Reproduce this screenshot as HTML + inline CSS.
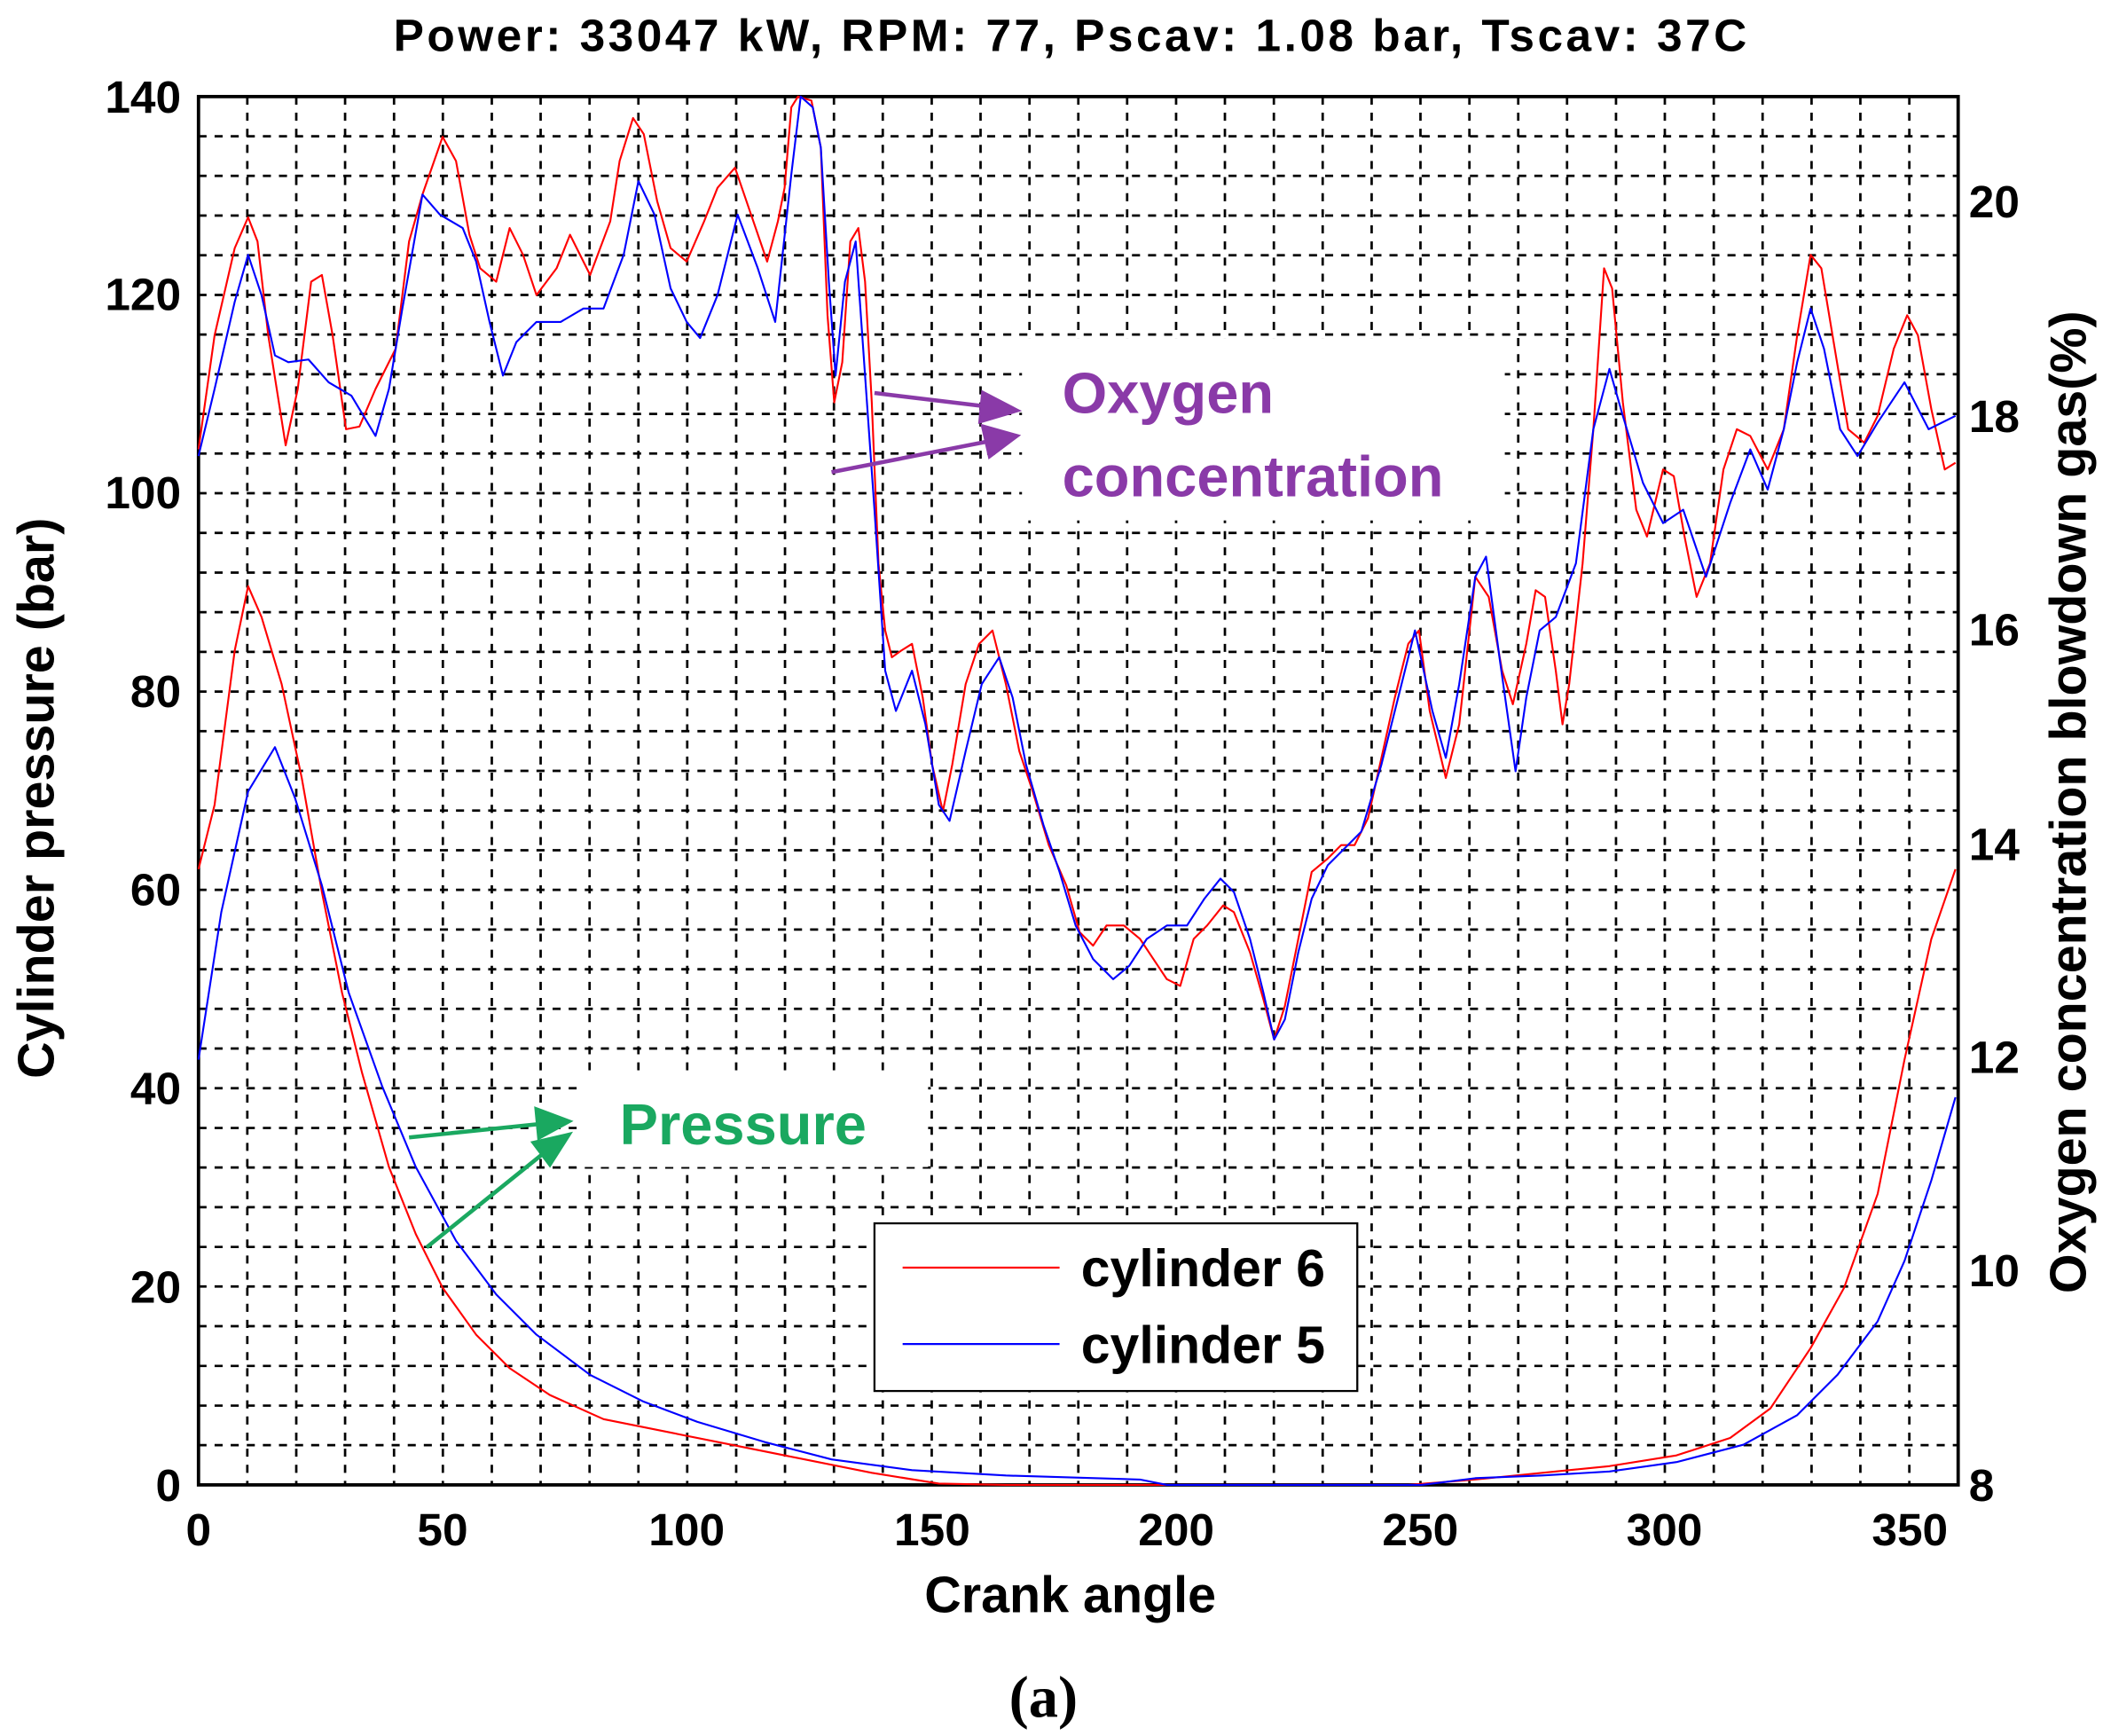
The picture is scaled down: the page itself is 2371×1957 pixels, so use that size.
<!DOCTYPE html>
<html><head><meta charset="utf-8"><style>html,body{margin:0;padding:0;background:#fff}svg{display:block}</style></head><body>
<svg width="2371" height="1957" viewBox="0 0 1568 1294.2" preserveAspectRatio="none" xmlns="http://www.w3.org/2000/svg" font-family="Liberation Sans, Arial, sans-serif" font-weight="bold">
<rect width="1568" height="1294.2" fill="#fff"/>
<path fill="none" stroke="#000" stroke-width="1.8" stroke-dasharray="6,6" d="M184.4,72V1107M220.9,72V1107M257.3,72V1107M293.8,72V1107M330.2,72V1107M366.7,72V1107M403.1,72V1107M439.6,72V1107M476,72V1107M512.4,72V1107M548.9,72V1107M585.3,72V1107M621.8,72V1107M658.2,72V1107M694.7,72V1107M731.1,72V1107M767.6,72V1107M804,72V1107M840.4,72V1107M876.9,72V1107M913.3,72V1107M949.8,72V1107M986.2,72V1107M1022.7,72V1107M1059.1,72V1107M1095.6,72V1107M1132,72V1107M1168.4,72V1107M1204.9,72V1107M1241.3,72V1107M1277.8,72V1107M1314.2,72V1107M1350.7,72V1107M1387.1,72V1107M1423.6,72V1107
M148,1077.4H1460M148,1047.9H1460M148,1018.3H1460M148,988.7H1460M148,959.1H1460M148,929.6H1460M148,900H1460M148,870.4H1460M148,840.9H1460M148,811.3H1460M148,781.7H1460M148,752.1H1460M148,722.6H1460M148,693H1460M148,663.4H1460M148,633.9H1460M148,604.3H1460M148,574.7H1460M148,545.1H1460M148,515.6H1460M148,486H1460M148,456.4H1460M148,426.9H1460M148,397.3H1460M148,367.7H1460M148,338.1H1460M148,308.6H1460M148,279H1460M148,249.4H1460M148,219.9H1460M148,190.3H1460M148,160.7H1460M148,131.1H1460M148,101.6H1460"/>
<rect x="148" y="72" width="1312" height="1035" fill="none" stroke="#000" stroke-width="2.5"/>
<g font-size="34" fill="#000">
<text x="799" y="38" text-anchor="middle" font-size="34" letter-spacing="2.3">Power: 33047 kW, RPM: 77, Pscav: 1.08 bar, Tscav: 37C</text>
<g text-anchor="end">
<text x="135" y="1119">0</text><text x="135" y="971">20</text><text x="135" y="823">40</text><text x="135" y="675">60</text><text x="135" y="527">80</text><text x="135" y="379">100</text><text x="135" y="231">120</text><text x="135" y="84">140</text>
</g>
<g text-anchor="middle">
<text x="148" y="1152">0</text><text x="330" y="1152">50</text><text x="512" y="1152">100</text><text x="695" y="1152">150</text><text x="877" y="1152">200</text><text x="1059" y="1152">250</text><text x="1241" y="1152">300</text><text x="1424" y="1152">350</text>
</g>
<g>
<text x="1468" y="1119">8</text><text x="1468" y="959">10</text><text x="1468" y="800">12</text><text x="1468" y="641">14</text><text x="1468" y="481">16</text><text x="1468" y="322">18</text><text x="1468" y="162">20</text>
</g>
<text x="798" y="1202" text-anchor="middle" font-size="38">Crank angle</text>
<text transform="translate(40,595) rotate(-90)" text-anchor="middle" font-size="38">Cylinder pressure (bar)</text>
<text transform="translate(1555,598) rotate(-90)" text-anchor="middle" font-size="38">Oxygen concentration blowdown gas(%)</text>
</g>
<g fill="none" stroke-width="1.4" stroke-linejoin="round">
<polyline stroke="#f00" points="148,335 160,250 175,185 185,162 192,180 200,250 213,332 222,290 232,210 240,205 248,250 258,320 268,318 280,290 295,260 305,180 315,145 330,102 340,120 350,175 358,200 370,210 380,170 390,190 400,220 415,200 425,175 440,205 455,165 462,120 472,88 480,100 490,150 500,185 512,195 525,165 535,140 548,125 560,160 572,195 580,165 585,140 590,80 595,72 605,75 612,110 617,235 622,300 628,270 634,180 640,170 645,210 650,300 655,420 660,470 665,490 672,485 680,480 688,520 695,570 703,605 710,570 720,510 730,480 740,470 750,510 760,560 770,590 782,630 795,660 805,695 815,705 825,690 838,690 850,700 860,715 870,730 880,735 890,700 900,690 912,675 920,680 932,710 942,745 950,775 958,750 968,700 978,650 990,640 1000,630 1010,630 1020,610 1030,565 1040,520 1050,480 1058,470 1066,530 1078,580 1088,540 1100,430 1110,445 1120,500 1128,525 1138,480 1145,440 1152,445 1160,500 1165,540 1170,510 1180,420 1188,320 1196,200 1202,215 1210,300 1220,380 1228,400 1240,350 1248,355 1256,400 1265,445 1275,420 1285,350 1295,320 1305,325 1318,350 1330,320 1340,250 1350,190 1358,200 1368,260 1378,320 1390,330 1400,310 1412,260 1422,235 1430,250 1440,305 1450,350 1458,345"/>
<polyline stroke="#00f" points="148,340 160,290 175,225 185,190 195,220 205,265 215,270 230,268 245,285 262,295 280,325 290,290 300,230 315,145 328,160 345,170 355,195 365,240 375,280 385,255 400,240 418,240 435,230 450,230 465,190 476,135 488,160 500,215 512,240 522,252 535,220 550,160 565,200 578,240 590,130 597,72 606,80 612,110 618,210 623,280 630,210 638,180 645,280 652,380 660,500 668,530 680,500 690,540 700,600 708,612 720,560 732,510 745,490 755,520 765,570 778,615 790,650 802,690 815,715 830,730 842,720 855,700 870,690 885,690 898,670 910,655 920,665 932,700 942,740 950,775 958,760 968,710 978,670 990,645 1000,635 1015,620 1030,570 1045,510 1055,470 1068,530 1078,565 1088,510 1100,430 1108,415 1118,490 1130,575 1138,520 1148,470 1160,460 1175,420 1188,320 1200,275 1210,310 1225,360 1240,390 1255,380 1272,430 1290,375 1305,335 1318,365 1330,320 1340,270 1350,230 1360,260 1372,320 1385,340 1400,315 1420,285 1438,320 1458,310"/>
<polyline stroke="#f00" points="148,648 160,600 175,485 185,437 195,460 210,510 225,580 240,665 255,740 270,800 290,870 310,920 330,960 355,995 380,1020 410,1040 450,1058 500,1068 550,1078 600,1088 650,1098 700,1106 750,1107 1050,1107 1100,1103 1150,1098 1200,1093 1250,1085 1290,1072 1320,1050 1350,1005 1375,960 1400,890 1420,790 1440,700 1458,648"/>
<polyline stroke="#00f" points="148,790 165,680 185,590 205,557 220,595 240,660 260,740 285,810 310,870 340,925 370,965 400,995 440,1025 480,1045 520,1060 570,1075 620,1088 680,1096 750,1100 850,1103 870,1107 1060,1107 1100,1102 1150,1100 1200,1097 1250,1090 1300,1077 1340,1055 1370,1025 1400,985 1420,940 1440,880 1458,818"/>
</g>
<rect x="762" y="252" width="360" height="136" fill="#fff"/>
<rect x="430" y="798" width="262" height="72" fill="#fff"/>
<g stroke="#8a3aa8" stroke-width="3" fill="#8a3aa8">
<line x1="652" y1="293" x2="735" y2="303"/><polygon points="758,306 733,293 731,314"/>
<line x1="620" y1="352" x2="737" y2="329"/><polygon points="758,325 733,318 738,340"/>
</g>
<g stroke="#1aa860" stroke-width="3" fill="#1aa860">
<line x1="305" y1="848" x2="402" y2="838"/><polygon points="424,836 400,827 402,848"/>
<line x1="318" y1="930" x2="405" y2="860"/><polygon points="424,846 398,852 410,868"/>
</g>
<text x="792" y="308" font-size="43" fill="#8a3aa8">Oxygen</text>
<text x="792" y="370" font-size="43" fill="#8a3aa8">concentration</text>
<text x="462" y="853" font-size="43" fill="#1aa860">Pressure</text>
<rect x="652" y="912" width="360" height="125" fill="#fff" stroke="#000" stroke-width="1.5"/>
<line x1="673" y1="945" x2="790" y2="945" stroke="#f00" stroke-width="1.5"/>
<line x1="673" y1="1002" x2="790" y2="1002" stroke="#00f" stroke-width="1.5"/>
<text x="806" y="959" font-size="39">cylinder 6</text>
<text x="806" y="1016" font-size="39">cylinder 5</text>
<text x="778" y="1280" font-size="44" font-family="Liberation Serif, serif" text-anchor="middle">(a)</text>
</svg>
</body></html>
